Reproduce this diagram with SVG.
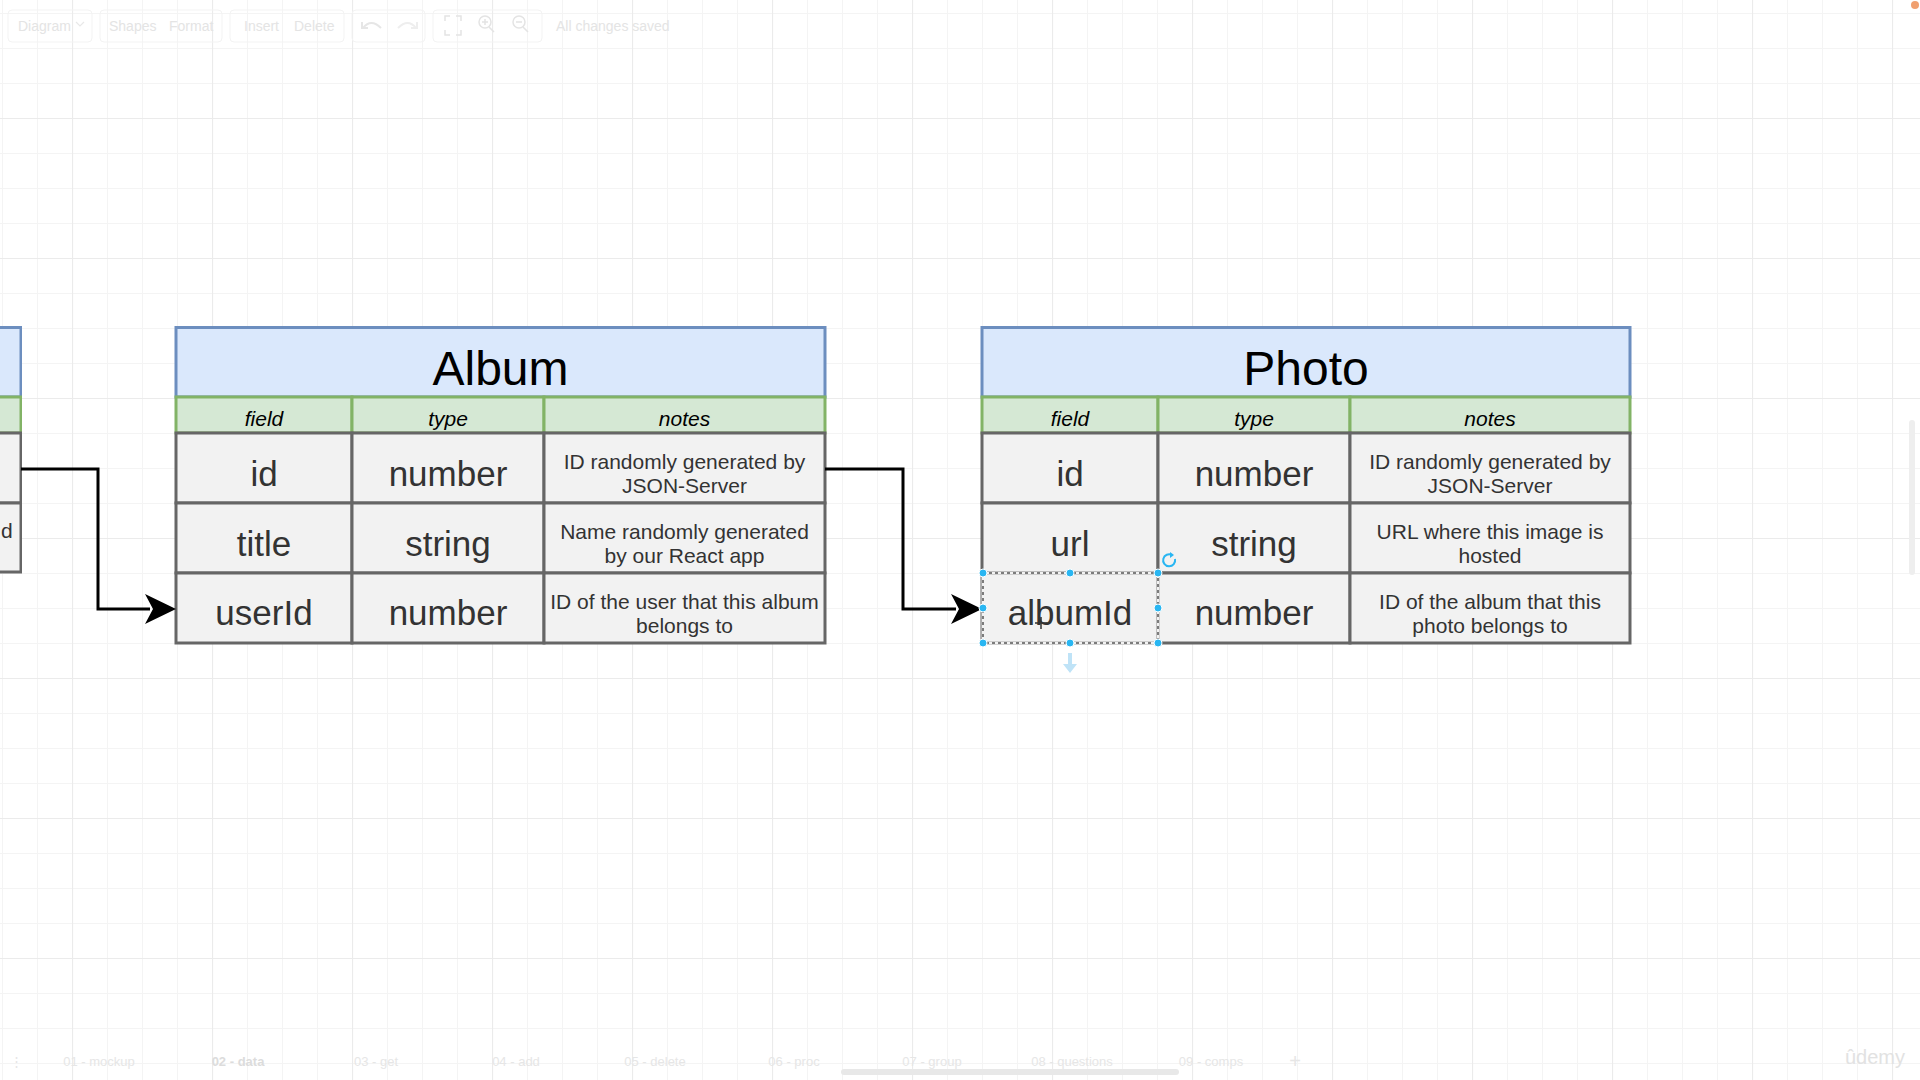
<svg xmlns="http://www.w3.org/2000/svg" width="1920" height="1080" viewBox="0 0 1920 1080">
<defs>
<pattern id="grid" x="72" y="118" width="140" height="140" patternUnits="userSpaceOnUse">
<path d="M35.5 0V140M70.5 0V140M105.5 0V140M0 35.5H140M0 70.5H140M0 105.5H140" stroke="#f4f4f4" stroke-width="1"/>
<path d="M0.5 0V140M0 0.5H140" stroke="#ebebeb" stroke-width="1.2"/>
</pattern>
<clipPath id="leftclip"><rect x="0" y="0" width="22" height="1080"/></clipPath>
<style>
.t{font-family:"Liberation Sans",Arial,Helvetica,sans-serif;text-anchor:middle}
.title{font-size:48px;fill:#000}
.hd{font-size:21px;font-style:italic;fill:#000}
.big{font-size:35px;fill:#333}
.note{font-size:21px;fill:#333}
.blue{fill:#dae8fc;stroke:#6c8ebf;stroke-width:3}
.green{fill:#d5e8d4;stroke:#82b366;stroke-width:3}
.cell{fill:#f2f2f2;stroke:#666;stroke-width:3}
.conn{fill:none;stroke:#000;stroke-width:3}
.ui{font-family:"Liberation Sans",Arial,Helvetica,sans-serif;font-size:14px;fill:#e4e4e4}
.tab{font-family:"Liberation Sans",Arial,Helvetica,sans-serif;font-size:13px;fill:#e6e6e6;text-anchor:middle}
.uibox{fill:none;stroke:#f3f3f3;stroke-width:1}
.handle{fill:#29b6f2;stroke:#fff;stroke-width:1}
</style>
</defs>
<rect width="1920" height="1080" fill="#fff"/>
<rect width="1920" height="1080" fill="url(#grid)"/>

<g id="toolbar">
<rect class="uibox" x="8" y="10" width="84" height="32" rx="4"/>
<rect class="uibox" x="100" y="10" width="122" height="32" rx="4"/>
<rect class="uibox" x="230" y="10" width="114" height="32" rx="4"/>
<rect class="uibox" x="352" y="10" width="73" height="32" rx="4"/>
<rect class="uibox" x="433" y="10" width="109" height="32" rx="4"/>
<text class="ui" x="18" y="31">Diagram</text>
<path d="M76 22l4 4 4-4" fill="none" stroke="#e8e8e8" stroke-width="1.2"/>
<text class="ui" x="109" y="31">Shapes</text>
<text class="ui" x="169" y="31">Format</text>
<text class="ui" x="244" y="31">Insert</text>
<text class="ui" x="294" y="31">Delete</text>
<path d="M363 28q8-10 18 0M362 22v6h6" fill="none" stroke="#e6e6e6" stroke-width="2"/>
<path d="M416 28q-8-10-18 0M417 22v6h-6" fill="none" stroke="#eeeeee" stroke-width="2"/>
<path d="M445 21v-5h5M456 16h5v5M461 30v5h-5M450 35h-5v-5" fill="none" stroke="#e4e4e4" stroke-width="1.5"/>
<circle cx="485" cy="22" r="6" fill="none" stroke="#e4e4e4" stroke-width="1.5"/>
<path d="M489 27l5 5M482 22h6M485 19v6" fill="none" stroke="#e4e4e4" stroke-width="1.5"/>
<circle cx="519" cy="22" r="6" fill="none" stroke="#e4e4e4" stroke-width="1.5"/>
<path d="M523 27l5 5M516 22h6" fill="none" stroke="#e4e4e4" stroke-width="1.5"/>
<text class="ui" x="556" y="31">All changes saved</text>
<circle cx="1915" cy="5" r="4" fill="#f0a070"/>
</g>

<g id="leftTable" clip-path="url(#leftclip)">
<rect class="blue" x="-200" y="327.5" width="221" height="69.5"/>
<rect class="green" x="-200" y="397" width="221" height="36"/>
<rect class="cell" x="-200" y="433" width="221" height="70"/>
<rect class="cell" x="-200" y="503" width="221" height="69"/>
<text class="note" x="1" y="538" style="font-family:'Liberation Sans',Arial,sans-serif">d</text>
</g>

<g id="album">
<rect class="blue" x="176" y="327.5" width="649" height="69.5"/>
<rect class="green" x="176" y="397" width="176" height="36"/>
<rect class="green" x="352" y="397" width="192" height="36"/>
<rect class="green" x="544" y="397" width="281" height="36"/>
<rect class="cell" x="176" y="433" width="176" height="70"/>
<rect class="cell" x="352" y="433" width="192" height="70"/>
<rect class="cell" x="544" y="433" width="281" height="70"/>
<rect class="cell" x="176" y="503" width="176" height="70"/>
<rect class="cell" x="352" y="503" width="192" height="70"/>
<rect class="cell" x="544" y="503" width="281" height="70"/>
<rect class="cell" x="176" y="573" width="176" height="70"/>
<rect class="cell" x="352" y="573" width="192" height="70"/>
<rect class="cell" x="544" y="573" width="281" height="70"/>
<text class="t title" x="500.5" y="385">Album</text>
<text class="t hd" x="264" y="426">field</text>
<text class="t hd" x="448" y="426">type</text>
<text class="t hd" x="684.5" y="426">notes</text>
<text class="t big" x="264" y="486">id</text>
<text class="t big" x="448" y="486">number</text>
<text class="t note" x="684.5" y="469">ID randomly generated by</text>
<text class="t note" x="684.5" y="492.5">JSON-Server</text>
<text class="t big" x="264" y="556">title</text>
<text class="t big" x="448" y="556">string</text>
<text class="t note" x="684.5" y="538.5">Name randomly generated</text>
<text class="t note" x="684.5" y="562.5">by our React app</text>
<text class="t big" x="264" y="625">userId</text>
<text class="t big" x="448" y="625">number</text>
<text class="t note" x="684.5" y="608.5">ID of the user that this album</text>
<text class="t note" x="684.5" y="632.5">belongs to</text>
</g>

<g id="photo">
<rect class="blue" x="982" y="327.5" width="648" height="69.5"/>
<rect class="green" x="982" y="397" width="176" height="36"/>
<rect class="green" x="1158" y="397" width="192" height="36"/>
<rect class="green" x="1350" y="397" width="280" height="36"/>
<rect class="cell" x="982" y="433" width="176" height="70"/>
<rect class="cell" x="1158" y="433" width="192" height="70"/>
<rect class="cell" x="1350" y="433" width="280" height="70"/>
<rect class="cell" x="982" y="503" width="176" height="70"/>
<rect class="cell" x="1158" y="503" width="192" height="70"/>
<rect class="cell" x="1350" y="503" width="280" height="70"/>
<rect class="cell" x="982" y="573" width="176" height="70"/>
<rect class="cell" x="1158" y="573" width="192" height="70"/>
<rect class="cell" x="1350" y="573" width="280" height="70"/>
<text class="t title" x="1306" y="385">Photo</text>
<text class="t hd" x="1070" y="426">field</text>
<text class="t hd" x="1254" y="426">type</text>
<text class="t hd" x="1490" y="426">notes</text>
<text class="t big" x="1070" y="486">id</text>
<text class="t big" x="1254" y="486">number</text>
<text class="t note" x="1490" y="469">ID randomly generated by</text>
<text class="t note" x="1490" y="492.5">JSON-Server</text>
<text class="t big" x="1070" y="556">url</text>
<text class="t big" x="1254" y="556">string</text>
<text class="t note" x="1490" y="538.5">URL where this image is</text>
<text class="t note" x="1490" y="562.5">hosted</text>
<text class="t big" x="1070" y="625">albumId</text>
<text class="t big" x="1254" y="625">number</text>
<text class="t note" x="1490" y="608.5">ID of the album that this</text>
<text class="t note" x="1490" y="632.5">photo belongs to</text>
</g>

<g id="connectors">
<path class="conn" d="M21 469H98V609H150"/>
<polygon points="176,609 145,594 153,609 145,624" fill="#000"/>
<path class="conn" d="M825 469H903V609H956"/>
<polygon points="982,609 951,594 959,609 951,624" fill="#000"/>
</g>

<g id="selection">
<rect x="983" y="573" width="175" height="70" fill="none" stroke="#f2f2f2" stroke-width="3"/>
<rect x="983" y="573" width="175" height="70" fill="none" stroke="#555" stroke-width="1.5" stroke-dasharray="3 3"/>
<circle class="handle" cx="983" cy="573" r="4"/>
<circle class="handle" cx="1070" cy="573" r="4"/>
<circle class="handle" cx="1158" cy="573" r="4"/>
<circle class="handle" cx="983" cy="608" r="4"/>
<circle class="handle" cx="1158" cy="608" r="4"/>
<circle class="handle" cx="983" cy="643" r="4"/>
<circle class="handle" cx="1070" cy="643" r="4"/>
<circle class="handle" cx="1158" cy="643" r="4"/>
<path d="M1175 559a6 6 0 1 1-3-4" fill="none" stroke="#29b6f2" stroke-width="2"/>
<path d="M1170 552l4 3-4 3z" fill="#29b6f2"/>
<path d="M1068 653h4v11h5l-7 9-7-9h5z" fill="#bfe3f7"/>
<path d="M1041 617v12M1035 623h12" stroke="#333" stroke-width="1.5"/>
</g>

<g id="tabs">
<text class="tab" x="16" y="1066">⋮</text>
<text class="tab" x="99" y="1066">01 - mockup</text>
<text class="tab" x="238" y="1066" style="font-weight:bold;fill:#dcdcdc">02 - data</text>
<text class="tab" x="376" y="1066">03 - get</text>
<text class="tab" x="516" y="1066">04 - add</text>
<text class="tab" x="655" y="1066">05 - delete</text>
<text class="tab" x="794" y="1066">06 - proc</text>
<text class="tab" x="932" y="1066">07 - group</text>
<text class="tab" x="1072" y="1066">08 - questions</text>
<text class="tab" x="1211" y="1066">09 - comps</text>
<text class="tab" x="1295" y="1068" style="font-size:20px">+</text>
<rect x="841" y="1069" width="338" height="6" rx="3" fill="#e8e8e8"/>
<rect x="1909" y="420" width="6" height="155" rx="3" fill="#eeeeee"/>
<text x="1875" y="1064" style="font-family:'Liberation Sans',Arial,sans-serif;font-size:20px;fill:#e2e2e2;text-anchor:middle">ûdemy</text>
</g>
</svg>
